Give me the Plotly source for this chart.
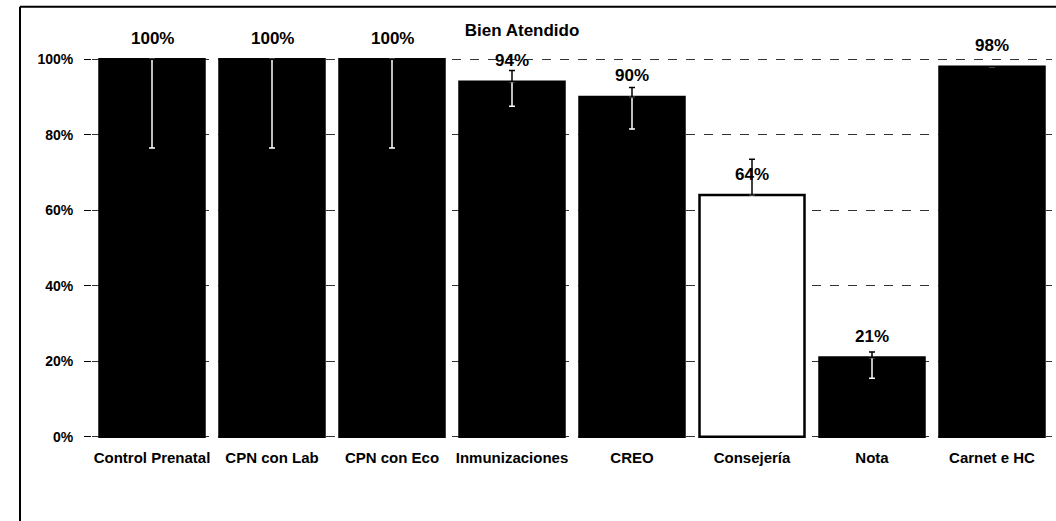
import plotly.graph_objects as go

categories = ["Control Prenatal", "CPN con Lab", "CPN con Eco", "Inmunizaciones",
              "CREO", "Consejería", "Nota", "Carnet e HC"]
values = [100, 100, 100, 94, 90, 64, 21, 98]
err_plus = [0, 0, 0, 3, 2.5, 9.5, 1.5, 0]
err_minus = [23.5, 23.5, 23.5, 6.5, 8.5, 8, 5.5, 0]
labels = ["100%", "100%", "100%", "94%", "90%", "64%", "21%", "98%"]
y_ticks = [0, 20, 40, 60, 80, 100]
y_tick_text = ["0%", "20%", "40%", "60%", "80%", "100%"]

fill_colors = ["white" if c == "Consejería" else "black" for c in categories]

FONT = "Liberation Sans"

fig = go.Figure()
fig.add_trace(go.Bar(
    x=categories, y=values,
    marker=dict(color=fill_colors, line=dict(color="black", width=2.5)),
    error_y=dict(type="data", symmetric=False, array=[0] * len(values),
                 arrayminus=err_minus, color="white", thickness=1.5, width=3),
    showlegend=False,
))
fig.add_trace(go.Scatter(
    x=categories, y=values, mode="markers",
    marker=dict(size=1, color="rgba(0,0,0,0)"),
    error_y=dict(type="data", symmetric=False, array=err_plus,
                 arrayminus=[0] * len(values), color="black", thickness=1.5, width=3),
    showlegend=False, hoverinfo="skip",
))

for c, v, t in zip(categories, values, labels):
    fig.add_annotation(x=c, y=v, text=t, showarrow=False, yshift=21,
                       font=dict(family=FONT, size=17, color="black", weight="bold"))

# scanned-page frame
fig.add_shape(type="line", xref="paper", yref="paper", x0=-0.075, x1=1.01,
              y0=1.135, y1=1.135, line=dict(color="black", width=2))
fig.add_shape(type="line", xref="paper", yref="paper", x0=-0.075, x1=-0.075,
              y0=1.135, y1=-0.23, line=dict(color="black", width=2))

fig.update_layout(
    width=1056, height=521,
    margin=dict(l=92, r=4, t=58, b=83),
    paper_bgcolor="white", plot_bgcolor="white",
    bargap=0.125,
    title=dict(text="Bien Atendido", x=0.448, xanchor="center", xref="paper",
               y=1 - 30 / 521, yanchor="middle",
               font=dict(family=FONT, size=17, color="black", weight="bold")),
    font=dict(family=FONT, color="black"),
)
fig.update_xaxes(
    showgrid=False, showline=False, ticks="", ticklabelstandoff=9,
    tickfont=dict(family=FONT, size=15, color="black", weight="bold"),
)
fig.update_yaxes(
    range=[-0.3, 100.3], tickvals=y_ticks, ticktext=y_tick_text,
    showgrid=True, gridcolor="#333333", griddash="dash", gridwidth=1,
    zeroline=False, showline=False,
    ticks="outside", ticklen=7, tickcolor="black", ticklabelstandoff=8,
    tickfont=dict(family=FONT, size=14, color="black", weight="bold"),
)

fig.write_html("out.html", config={"displayModeBar": False},
               post_script="document.body.style.margin='0px';")
